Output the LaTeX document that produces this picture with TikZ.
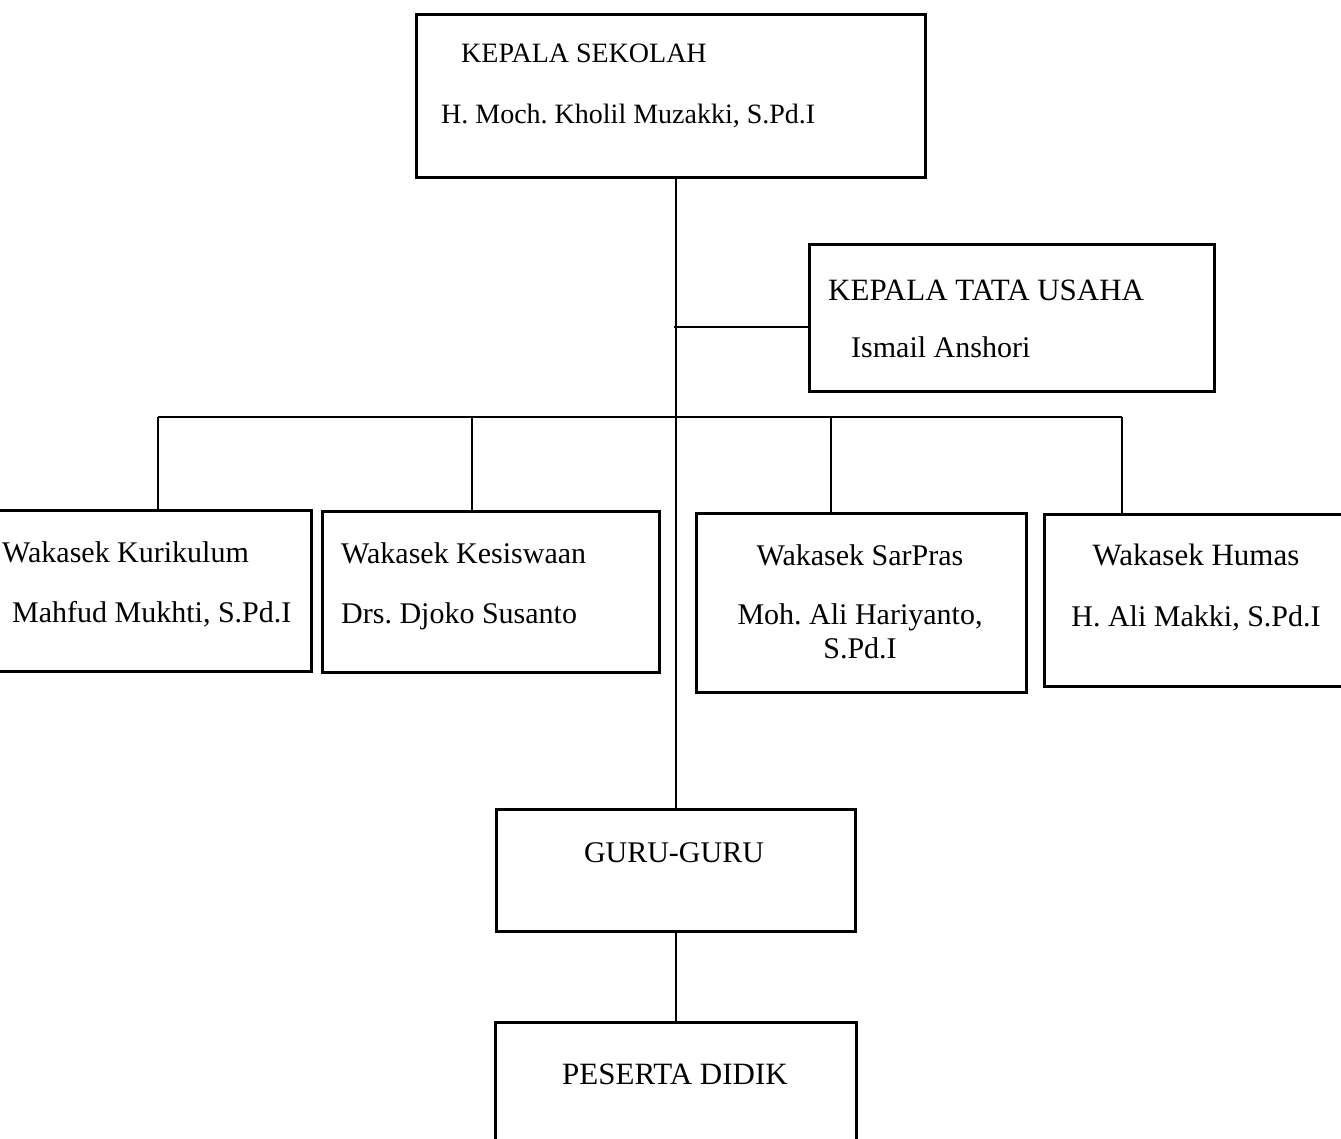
\documentclass[tikz,border=0pt]{standalone}
\usepackage{fontspec}
\setmainfont{Liberation Serif}
\frenchspacing
\begin{document}
\begin{tikzpicture}[x=1pt,y=-1pt,
  box/.style={draw,line width=2.6pt,rectangle,inner sep=0pt,anchor=north west},
  conn/.style={line width=2.6pt},
  lbl/.style={inner sep=0pt,font=\fontsize{30}{35}\selectfont},
  lblw/.style={lbl,anchor=base west},
  lblc/.style={lbl,anchor=base}]
\useasboundingbox (0,0) rectangle (1341,1139);
\clip (0,0) rectangle (1341,1139);
% boxes
\node[box,minimum width=509pt,minimum height=163pt] (ks) at (415,13) {};
\node[box,minimum width=405pt,minimum height=147pt] (tu) at (808,243) {};
\node[box,minimum width=340pt,minimum height=161pt] (kur) at (-30,509) {};
\node[box,minimum width=337pt,minimum height=161pt] (kes) at (321,510) {};
\node[box,minimum width=330pt,minimum height=179pt] (sar) at (695,512) {};
\node[box,minimum width=330pt,minimum height=172pt] (hum) at (1043,513) {};
\node[box,minimum width=359pt,minimum height=122pt] (guru) at (495,808) {};
\node[box,minimum width=361pt,minimum height=160pt] (pes) at (494,1021) {};
% texts
\node[lblw,font=\fontsize{28}{33}\selectfont] (ks1) at (461,63) {KEPALA SEKOLAH};
\node[lblw,font=\fontsize{28}{33}\selectfont] (ks2) at (441,124) {H. Moch. Kholil Muzakki, S.Pd.I};
\node[lblw,font=\fontsize{31}{36}\selectfont] (tu1) at (828,301) {KEPALA TATA USAHA};
\node[lblw,font=\fontsize{30}{35}\selectfont] (tu2) at (851,358) {Ismail Anshori};
\node[lblw] (kur1) at (2,562) {Wakasek Kurikulum};
\node[lblw] (kur2) at (12,622) {Mahfud Mukhti, S.Pd.I};
\node[lblw] (kes1) at (341,563) {Wakasek Kesiswaan};
\node[lblw] (kes2) at (341,623) {Drs. Djoko Susanto};
\node[lblc] (sar1) at (860,565) {Wakasek SarPras};
\node[lblc] (sar2) at (860,624) {Moh. Ali Hariyanto,};
\node[lblc] (sar3) at (860,658) {S.Pd.I};
\node[lblc,font=\fontsize{31}{36}\selectfont] (hum1) at (1196,565) {Wakasek Humas};
\node[lblc] (hum2) at (1196,626) {H. Ali Makki, S.Pd.I};
\node[lblc] (guru1) at (674,862) {GURU-GURU};
\node[lblc,font=\fontsize{31}{36}\selectfont] (pes1) at (675,1084) {PESERTA DIDIK};
% connectors
\coordinate (tuj) at (674,327);
\coordinate (barL) at (158,417);
\coordinate (barKes) at (472,417);
\coordinate (barSar) at (831,417);
\coordinate (barR) at (1122,417);
\draw[conn] (ks.south -| guru.north) -- (guru.north);
\draw[conn] (tuj) -- (tuj -| tu.west);
\draw[conn] (barL) -- (barR);
\draw[conn] (barL) -- (barL |- kur.north);
\draw[conn] (barKes) -- (barKes |- kes.north);
\draw[conn] (barSar) -- (barSar |- sar.north);
\draw[conn] (barR) -- (barR |- hum.north);
\draw[conn] (guru.south) -- (pes.north);
\end{tikzpicture}
\end{document}
